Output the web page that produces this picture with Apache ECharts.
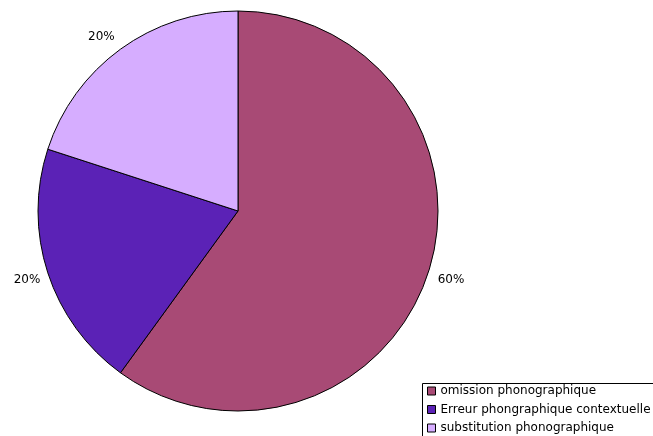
<!DOCTYPE html>
<html><head><meta charset="utf-8">
<script src="https://cdn.jsdelivr.net/npm/echarts@6/dist/echarts.min.js"></script>
<style>html,body{margin:0;padding:0;background:#fff}#c{width:653px;height:436px}</style>
</head><body><div id="c"></div>
<script>
const categories = ['omission phonographique', 'Erreur phongraphique contextuelle', 'substitution phonographique'];
const values = [60, 20, 20];
const colors = ['#A84A75', '#5B22B6', '#D6ADFF'];

const chart = echarts.init(document.getElementById('c'), null, {renderer: 'canvas'});
const data = categories.map((n, i) => ({name: n, value: values[i], itemStyle: {color: colors[i]}}));
const total = values.reduce((a, b) => a + b, 0);
const labelOffsets = [[0, 0], [2, 0], [-5, 7]];
chart.setOption({
  animation: false,
  backgroundColor: '#fff',
  textStyle: {fontFamily: 'DejaVu Sans'},
  legend: {
    orient: 'vertical',
    left: 427, top: 384, padding: 0,
    itemWidth: 8, itemHeight: 8, itemGap: 4.5,
    icon: 'rect',
    itemStyle: {borderColor: '#000', borderWidth: 1},
    textStyle: {fontFamily: 'DejaVu Sans', fontSize: 12, color: '#000', lineHeight: 14},
    data: categories
  },
  graphic: [{
    type: 'rect', shape: {x: 422.5, y: 383.5, width: 240, height: 60},
    style: {fill: 'none', stroke: '#000', lineWidth: 1}, z: -1
  }],
  series: [{
    type: 'pie',
    center: [238, 211], radius: [0, 200],
    startAngle: 90, clockwise: true,
    label: {show: false}, labelLine: {show: false},
    itemStyle: {borderColor: '#000', borderWidth: 1},
    silent: true,
    data: data
  }, {
    type: 'pie',
    center: [238, 211], radius: [216, 226],
    startAngle: 90, clockwise: true,
    silent: true,
    itemStyle: {color: 'rgba(0,0,0,0)', borderWidth: 0},
    label: {show: true, position: 'inside', fontFamily: 'DejaVu Sans', fontSize: 12, color: '#000',
      formatter: p => Math.round(p.value / total * 100) + '%'},
    labelLine: {show: false},
    legendHoverLink: false,
    data: categories.map((n, i) => ({name: n + ' ', value: values[i], label: {offset: labelOffsets[i]}}))
  }]
});
</script></body></html>
